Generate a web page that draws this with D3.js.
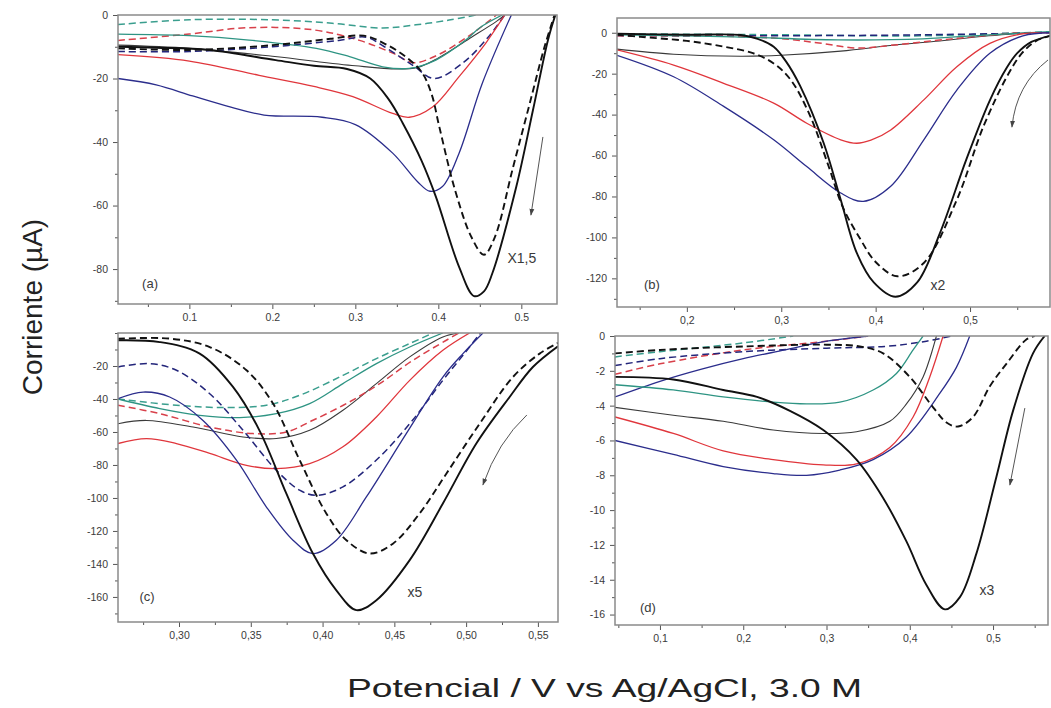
<!DOCTYPE html>
<html>
<head>
<meta charset="utf-8">
<script src="https://cdn.jsdelivr.net/npm/d3@7"></script>
<style>
  html, body { margin: 0; padding: 0; background: #fff; }
  svg { display: block; font-family: "Liberation Sans", Arial, sans-serif; }
</style>
</head>
<body>
<svg id="chart" width="1051" height="708"></svg>
<script>
// ---------- Panel (a): potential (V) / current (µA) ----------
const aBlack   = [[0.014,-10],[0.06,-10.3],[0.124,-11],[0.204,-14.2],[0.25,-16],[0.29,-17],[0.318,-20],[0.34,-26.5],[0.357,-34],[0.38,-46],[0.397,-57.2],[0.425,-79.3],[0.443,-88.5],[0.455,-87],[0.465,-81.4],[0.494,-54],[0.514,-30],[0.532,-8],[0.541,0]];
const aBlackD  = [[0.014,-10.5],[0.1,-11],[0.2,-9.5],[0.27,-7.5],[0.31,-6.5],[0.335,-9],[0.36,-13],[0.38,-18],[0.392,-25],[0.401,-35],[0.42,-55],[0.44,-70],[0.455,-75.5],[0.468,-70],[0.49,-48],[0.51,-28],[0.528,-10],[0.54,0]];
const aNavy    = [[0.014,-20],[0.06,-22],[0.104,-25.5],[0.15,-29],[0.19,-31.5],[0.26,-32.2],[0.3,-34.5],[0.345,-43.5],[0.375,-52.5],[0.39,-55.5],[0.405,-54],[0.425,-43.5],[0.453,-21.5],[0.488,0]];
const aNavyD   = [[0.014,-11.5],[0.1,-11.5],[0.2,-10],[0.28,-8],[0.313,-7],[0.335,-10],[0.37,-16],[0.395,-20],[0.43,-15],[0.46,-7],[0.48,0]];
const aRed     = [[0.014,-12.5],[0.1,-14.5],[0.184,-19],[0.25,-22.5],[0.297,-25.7],[0.345,-31],[0.365,-32.2],[0.393,-29],[0.425,-19.4],[0.457,-8.9],[0.48,0]];
const aRedD    = [[0.014,-8],[0.1,-6],[0.17,-4],[0.25,-4.7],[0.305,-8],[0.345,-12],[0.37,-15],[0.4,-12.5],[0.44,-6],[0.47,0]];
const aTeal    = [[0.014,-6],[0.1,-6.5],[0.172,-7.9],[0.253,-10.5],[0.293,-13.1],[0.333,-16.3],[0.365,-16.8],[0.397,-14.2],[0.433,-7.9],[0.45,-4],[0.477,0]];
const aTealD   = [[0.014,-3],[0.1,-1.5],[0.2,-1.5],[0.272,-2.6],[0.333,-4.1],[0.373,-3.1],[0.413,-1.6],[0.445,0]];
const aGray    = [[0.014,-9.5],[0.1,-10.5],[0.2,-13],[0.3,-16],[0.35,-17],[0.375,-16.5],[0.4,-13.5],[0.44,-7],[0.47,-2],[0.48,0]];

// ---------- Panel (b) ----------
const bBlack   = [[0.126,-0.5],[0.2,-1],[0.257,-1.1],[0.275,-3],[0.292,-6.8],[0.305,-14],[0.32,-26],[0.345,-54],[0.363,-81.6],[0.38,-107.6],[0.398,-122],[0.421,-129],[0.444,-122],[0.468,-98],[0.496,-62],[0.521,-33],[0.539,-17],[0.55,-10],[0.565,-4.5],[0.585,-1.5]];
const bBlackD  = [[0.126,-1],[0.151,-2],[0.2,-4],[0.239,-6.8],[0.27,-10],[0.292,-15],[0.31,-23],[0.33,-40],[0.35,-65],[0.365,-85],[0.384,-101],[0.4,-112],[0.423,-119],[0.451,-112.5],[0.486,-81.6],[0.514,-46],[0.539,-21.5],[0.555,-10],[0.57,-4],[0.585,-1.5]];
const bNavy    = [[0.126,-11],[0.186,-21.5],[0.239,-36],[0.292,-52.3],[0.327,-65.4],[0.363,-78.3],[0.387,-82.4],[0.416,-75],[0.451,-52.3],[0.486,-28],[0.521,-10],[0.556,-1.5],[0.585,0]];
const bNavyD   = [[0.126,-1.5],[0.3,-1.5],[0.45,-1],[0.585,0]];
const bRed     = [[0.126,-8.4],[0.186,-15.8],[0.239,-24.7],[0.292,-34.4],[0.327,-44.2],[0.363,-52.3],[0.38,-54],[0.395,-52.5],[0.416,-47.5],[0.451,-32.8],[0.486,-16.6],[0.521,-5.2],[0.556,-0.5],[0.585,0]];
const bRedD    = [[0.126,-1.5],[0.2,-1.5],[0.292,-2.6],[0.34,-5],[0.38,-7.5],[0.42,-6],[0.48,-3],[0.55,0]];
const bTeal    = [[0.126,-1],[0.25,-2],[0.36,-3.5],[0.45,-3],[0.52,-1],[0.585,0.5]];
const bTealD   = [[0.126,-0.5],[0.3,-1],[0.45,-1.5],[0.585,0.5]];
const bGray    = [[0.126,-8],[0.186,-10.5],[0.257,-11.5],[0.3,-11],[0.363,-9],[0.42,-6],[0.468,-4],[0.52,-1.5],[0.56,0]];

// ---------- Panel (c) ----------
const cBlack   = [[0.2575,-4.4],[0.2866,-5.5],[0.3144,-12.5],[0.3376,-32.7],[0.356,-59],[0.3748,-97.4],[0.3933,-133.7],[0.4096,-156],[0.4235,-168],[0.4375,-162],[0.4607,-137.7],[0.4838,-103.4],[0.5071,-67],[0.5303,-38.8],[0.5465,-20.6],[0.564,-8]];
const cBlackD  = [[0.2575,-3.5],[0.2935,-3.4],[0.3214,-8.5],[0.347,-22.6],[0.3655,-42.8],[0.384,-77],[0.4026,-109.4],[0.4166,-125.6],[0.4328,-133.7],[0.449,-127.7],[0.4676,-109.4],[0.4862,-85.3],[0.5094,-55],[0.5326,-26.7],[0.5512,-12.5],[0.564,-6]];
const cNavy    = [[0.2575,-39.8],[0.275,-35.8],[0.2935,-38.8],[0.3167,-53],[0.34,-77],[0.3609,-105.5],[0.3794,-125.6],[0.3933,-133.7],[0.4096,-125.6],[0.4305,-99.4],[0.4583,-61],[0.4838,-26.7],[0.4978,-12.5],[0.5117,0]];
const cNavyD   = [[0.2575,-20.6],[0.2796,-18.6],[0.2982,-22.6],[0.3214,-36.8],[0.3446,-59],[0.3678,-83.2],[0.384,-95.3],[0.3957,-98.4],[0.4142,-93.3],[0.4375,-77],[0.4607,-55],[0.4838,-28.7],[0.4978,-13.5],[0.51,0]];
const cRed     = [[0.2575,-67],[0.2773,-64],[0.2982,-67],[0.3214,-73],[0.347,-80.2],[0.3678,-82.2],[0.391,-79.2],[0.4142,-69],[0.4375,-50.9],[0.4607,-28.7],[0.4838,-10.5],[0.5024,0]];
const cRedD    = [[0.2575,-43.8],[0.2866,-48.9],[0.3214,-57],[0.3516,-61],[0.3748,-60],[0.3933,-52.9],[0.4166,-42.8],[0.4398,-30.7],[0.463,-16.5],[0.4862,-4.4],[0.495,0]];
const cTeal    = [[0.2575,-40],[0.2866,-45.8],[0.3144,-49.9],[0.3423,-51.3],[0.3678,-48.9],[0.391,-42.8],[0.4142,-30.7],[0.4375,-18.6],[0.4607,-8.5],[0.4838,0]];
const cTealD   = [[0.2575,-40],[0.2982,-43.8],[0.333,-45.2],[0.3609,-43.8],[0.384,-37.8],[0.4142,-25.7],[0.4375,-15.5],[0.4607,-6.4],[0.477,0]];
const cGray    = [[0.2575,-55],[0.2773,-53],[0.3098,-57],[0.3446,-63],[0.3678,-64],[0.391,-59],[0.4142,-46.8],[0.4375,-30.7],[0.4607,-14.5],[0.4838,-2.4],[0.495,0]];

// ---------- Panel (d) ----------
const dBlack   = [[0.046,-2.35],[0.116,-2.5],[0.176,-3.1],[0.2165,-3.5],[0.2561,-4.3],[0.2961,-5.4],[0.336,-7.1],[0.368,-9.3],[0.396,-11.8],[0.42,-14.3],[0.4422,-15.7],[0.4602,-15],[0.48,-12.5],[0.504,-8.1],[0.524,-4.3],[0.548,-1],[0.562,0]];
const dBlackD  = [[0.046,-1],[0.1,-0.8],[0.2,-0.6],[0.3,-0.5],[0.34,-0.6],[0.368,-1],[0.4,-2.35],[0.428,-4.1],[0.445,-5],[0.458,-5.2],[0.476,-4.65],[0.496,-2.9],[0.516,-1.6],[0.54,-0.2],[0.55,0]];
const dNavy    = [[0.046,-6],[0.116,-6.8],[0.176,-7.5],[0.236,-7.9],[0.276,-8],[0.316,-7.7],[0.356,-7.1],[0.396,-5.8],[0.436,-3.3],[0.456,-1.8],[0.472,0]];
const dNavy2   = [[0.046,-3.5],[0.1,-2.6],[0.15,-1.9],[0.2,-1.3],[0.25,-0.8],[0.3,-0.3],[0.35,0]];
const dNavyD   = [[0.046,-1.7],[0.1,-1.3],[0.2,-0.9],[0.3,-0.7],[0.37,-0.6],[0.42,-0.3],[0.45,0]];
const dRed     = [[0.046,-4.65],[0.116,-5.6],[0.176,-6.6],[0.236,-7.1],[0.296,-7.4],[0.336,-7.35],[0.376,-6.4],[0.404,-4.65],[0.424,-2.35],[0.44,0]];
const dRedD    = [[0.046,-2.2],[0.1,-1.6],[0.2,-0.8],[0.3,-0.3],[0.35,0]];
const dTeal    = [[0.046,-2.8],[0.116,-3.1],[0.176,-3.5],[0.236,-3.8],[0.276,-3.9],[0.316,-3.8],[0.356,-3.1],[0.384,-2.15],[0.404,-0.8],[0.416,0]];
const dTealD   = [[0.046,-1.2],[0.1,-0.9],[0.2,-0.4],[0.26,0]];
const dGray    = [[0.046,-4.1],[0.116,-4.55],[0.176,-4.9],[0.236,-5.4],[0.296,-5.6],[0.336,-5.5],[0.376,-4.9],[0.396,-3.9],[0.416,-2.35],[0.432,0]];

// ---------- Axis ticks and labels ----------
const aXTicks = [0.1, 0.2, 0.3, 0.4, 0.5];
const aYTicks = [0, -20, -40, -60, -80];
const bXTicks = [0.2, 0.3, 0.4, 0.5];
const bYTicks = [0, -20, -40, -60, -80, -100, -120];
const cXTicks = [0.30, 0.35, 0.40, 0.45, 0.50, 0.55];
const cYTicks = [-20, -40, -60, -80, -100, -120, -140, -160];
const dXTicks = [0.1, 0.2, 0.3, 0.4, 0.5];
const dYTicks = [0, -2, -4, -6, -8, -10, -12, -14, -16];

const panelTags  = ["(a)", "(b)", "(c)", "(d)"];
const scaleTags  = ["X1,5", "x2", "x5", "x3"];
const yTitle = "Corriente (\u00B5A)";
const xTitle = "Potencial / V vs Ag/AgCl, 3.0 M";

// Line styles per trace kind
const styles = {
  k:  { stroke: "#111",    width: 1.9, dash: null },
  kd: { stroke: "#111",    width: 1.9, dash: "7,4" },
  b:  { stroke: "#2b2d8c", width: 1.3, dash: null },
  bd: { stroke: "#23257a", width: 1.5, dash: "7,4" },
  r:  { stroke: "#e0363c", width: 1.3, dash: null },
  rd: { stroke: "#d8404a", width: 1.5, dash: "7,4" },
  t:  { stroke: "#2e9483", width: 1.3, dash: null },
  td: { stroke: "#3a9e8e", width: 1.5, dash: "7,4" },
  g:  { stroke: "#3a3a3a", width: 1.1, dash: null }
};

const panels = [
  { rect: [118, 15, 557, 304], xd: [0.014, 0.543], yd: [-91, 0],
    xt: aXTicks, yt: aYTicks, xMinor: 0.05, yMinor: 10, fmt: d => d.toFixed(1),
    series: [["g",aGray],["td",aTealD],["rd",aRedD],["bd",aNavyD],["t",aTeal],["r",aRed],["b",aNavy],["kd",aBlackD],["k",aBlack]],
    tag: [0.0526, -84.4], scl: [0.5007, -76.5],
    arrow: { pts: [[0.526,-38.4],[0.5116,-63]] } },
  { rect: [617, 18, 1050, 307], xd: [0.126, 0.5847], yd: [-134, 7.2],
    xt: bXTicks, yt: bYTicks, xMinor: 0.05, yMinor: 10, fmt: d => d.toFixed(1).replace(".", ","),
    series: [["g",bGray],["td",bTealD],["bd",bNavyD],["rd",bRedD],["t",bTeal],["r",bRed],["b",bNavy],["kd",bBlackD],["k",bBlack]],
    tag: [0.163, -123.2], scl: [0.466, -123.2],
    arrow: { pts: [[0.5826,-13.3],[0.5487,-25.5],[0.5444,-46.1]] } },
  { rect: [118, 333, 558, 622], xd: [0.2575, 0.564], yd: [-175.2, 0],
    xt: cXTicks, yt: cYTicks, xMinor: 0.025, yMinor: 10, fmt: d => d.toFixed(2).replace(".", ","),
    series: [["g",cGray],["td",cTealD],["rd",cRedD],["t",cTeal],["r",cRed],["bd",cNavyD],["b",cNavy],["kd",cBlackD],["k",cBlack]],
    tag: [0.2777, -160], scl: [0.4643, -157],
    arrow: { pts: [[0.5423,-49.7],[0.5221,-66.1],[0.5117,-92.1]] } },
  { rect: [615, 336, 1048, 625], xd: [0.046, 0.566], yd: [-16.6, 0],
    xt: dXTicks, yt: dYTicks, xMinor: 0.05, yMinor: 1, fmt: d => d.toFixed(1).replace(".", ","),
    series: [["td",dTealD],["rd",dRedD],["bd",dNavyD],["b",dNavy2],["t",dTeal],["g",dGray],["r",dRed],["b",dNavy],["kd",dBlackD],["k",dBlack]],
    tag: [0.0856, -15.57], scl: [0.4926, -14.59],
    arrow: { pts: [[0.5382,-4.14],[0.5202,-8.56]] } }
];

const svg = d3.select("#chart");
const defs = svg.append("defs");
defs.append("marker").attr("id", "ah").attr("viewBox", "0 0 10 10")
  .attr("refX", 9).attr("refY", 5).attr("markerWidth", 7).attr("markerHeight", 7)
  .attr("orient", "auto-start-reverse")
  .append("path").attr("d", "M0,1.5 L10,5 L0,8.5 Z").attr("fill", "#444");

const frameColor = "#8a8a8a";
const tickColor = "#555";
const labelColor = "#3a3a3a";

panels.forEach((p, i) => {
  const [x0, y0, x1, y1] = p.rect;
  const x = d3.scaleLinear().domain(p.xd).range([x0, x1]);
  const y = d3.scaleLinear().domain(p.yd).range([y1, y0]);
  const g = svg.append("g");

  const clipId = "clip" + i;
  defs.append("clipPath").attr("id", clipId)
    .append("rect").attr("x", x0).attr("y", y0).attr("width", x1 - x0).attr("height", y1 - y0);

  // minor ticks
  const xMinorVals = d3.range(Math.ceil(p.xd[0] / p.xMinor) * p.xMinor, p.xd[1], p.xMinor)
    .map(v => +v.toFixed(4)).filter(v => !p.xt.some(t => Math.abs(t - v) < 1e-6));
  const yMinorVals = d3.range(Math.ceil(p.yd[0] / p.yMinor) * p.yMinor, p.yd[1] + 1e-9, p.yMinor)
    .map(v => +v.toFixed(4)).filter(v => !p.yt.some(t => Math.abs(t - v) < 1e-6));

  const xAxisMinor = d3.axisBottom(x).tickValues(xMinorVals).tickSize(3).tickFormat("");
  const yAxisMinor = d3.axisLeft(y).tickValues(yMinorVals).tickSize(3).tickFormat("");
  const xAxis = d3.axisBottom(x).tickValues(p.xt).tickSize(5).tickPadding(5).tickFormat(p.fmt);
  const yAxis = d3.axisLeft(y).tickValues(p.yt).tickSize(5).tickPadding(5).tickFormat(d => d === 0 ? "0" : String(d));

  [g.append("g").attr("transform", `translate(0,${y1})`).call(xAxisMinor),
   g.append("g").attr("transform", `translate(${x0},0)`).call(yAxisMinor),
   g.append("g").attr("transform", `translate(0,${y1})`).call(xAxis),
   g.append("g").attr("transform", `translate(${x0},0)`).call(yAxis)].forEach(ax => {
    ax.select(".domain").remove();
    ax.selectAll(".tick line").attr("stroke", tickColor).attr("stroke-width", 1);
    ax.selectAll(".tick text").attr("fill", labelColor).attr("font-size", 10.5)
      .attr("font-family", "'Liberation Sans', Arial, sans-serif");
  });

  // traces
  const line = d3.line().x(d => x(d[0])).y(d => y(d[1])).curve(d3.curveCatmullRom.alpha(0.5));
  const traces = g.append("g").attr("clip-path", `url(#${clipId})`);
  p.series.forEach(([kind, pts]) => {
    const s = styles[kind];
    traces.append("path").datum(pts).attr("d", line)
      .attr("fill", "none").attr("stroke", s.stroke).attr("stroke-width", s.width)
      .attr("stroke-dasharray", s.dash).attr("stroke-linejoin", "round");
  });

  // frame
  g.append("rect").attr("x", x0).attr("y", y0).attr("width", x1 - x0).attr("height", y1 - y0)
    .attr("fill", "none").attr("stroke", frameColor).attr("stroke-width", 1.5);

  // panel tag and multiplier
  g.append("text").attr("x", x(p.tag[0])).attr("y", y(p.tag[1])).attr("dy", "0.35em")
    .attr("text-anchor", "middle").attr("font-size", 13).attr("fill", labelColor).text(panelTags[i]);
  g.append("text").attr("x", x(p.scl[0])).attr("y", y(p.scl[1])).attr("dy", "0.35em")
    .attr("text-anchor", "middle").attr("font-size", 14).attr("fill", labelColor).text(scaleTags[i]);

  // scan-direction arrow
  const ap = p.arrow.pts.map(d => [x(d[0]), y(d[1])]);
  const ad = ap.length === 3
    ? `M${ap[0][0]},${ap[0][1]} Q${ap[1][0]},${ap[1][1]} ${ap[2][0]},${ap[2][1]}`
    : `M${ap[0][0]},${ap[0][1]} L${ap[1][0]},${ap[1][1]}`;
  g.append("path").attr("d", ad).attr("fill", "none").attr("stroke", "#555")
    .attr("stroke-width", 1).attr("marker-end", "url(#ah)");
});

// axis titles
svg.append("text").attr("transform", "translate(42,307) rotate(-90)")
  .attr("text-anchor", "middle").attr("font-size", 28).attr("fill", "#222").text(yTitle);
svg.append("text").attr("x", 347).attr("y", 697)
  .attr("text-anchor", "start").attr("font-size", 25)
  .attr("textLength", 515).attr("lengthAdjust", "spacingAndGlyphs")
  .attr("fill", "#222").text(xTitle);
</script>
</body>
</html>
